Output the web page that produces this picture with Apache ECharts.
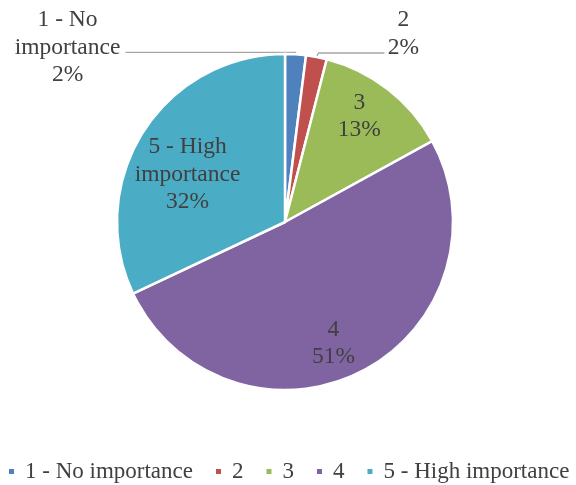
<!DOCTYPE html>
<html>
<head>
<meta charset="utf-8">
<script src="https://cdn.jsdelivr.net/npm/echarts@6/dist/echarts.min.js"></script>
<style>
  html, body { margin: 0; padding: 0; background: #fff; }
  #chart { width: 576px; height: 485px; }
</style>
</head>
<body>
<div id="chart"></div>
<script>
// Importance ratings (share of responses, %)
const categories = ['1 - No importance', '2', '3', '4', '5 - High importance'];
const shares = [2, 2, 13, 51, 32];
const colors = ['#4F81BD', '#C0504D', '#9BBB59', '#8064A2', '#4BACC6'];

const FONT = '"Liberation Serif", "Times New Roman", serif';
const TEXT = '#404040';

// Label text for a slice: category name on top, percent under it
function labelText(name, value) {
  const words = name === '1 - No importance' ? '1 - No\nimportance'
    : name === '5 - High importance' ? '5 - High\nimportance' : name;
  return words + '\n' + value + '%';
}

// Nudges for the labels drawn inside the larger slices
const insideShift = {
  2: [21, -37],
  3: [9, 44],
  4: [-24, -1]
};

const chart = echarts.init(document.getElementById('chart'), null, { renderer: 'canvas' });

chart.setOption({
  animation: false,
  color: colors,
  legend: {
    data: categories,
    left: 7,
    top: 460,
    width: 569,
    padding: 0,
    icon: 'rect',
    itemWidth: 7,
    itemHeight: 7,
    itemGap: 21,
    textStyle: { fontFamily: FONT, fontSize: 23, color: TEXT, padding: [0, 0, 0, 5] }
  },
  series: [{
    type: 'pie',
    center: [285, 222],
    radius: 168,
    startAngle: 90,
    clockwise: true,
    itemStyle: { borderColor: '#fff', borderWidth: 2.5 },
    emphasis: { disabled: true },
    label: {
      fontFamily: FONT,
      fontSize: 23.5,
      lineHeight: 27.5,
      color: TEXT,
      align: 'center',
      formatter: p => labelText(p.name, p.value)
    },
    labelLine: {
      show: true,
      length: 4,
      length2: 10,
      lineStyle: { color: '#A6A6A6', width: 1.3 }
    },
    labelLayout: function (p) {
      if (p.dataIndex === 0 && p.labelLinePoints) {
        const a = p.labelLinePoints[0];
        return {
          x: a[0] - 228, y: a[1] - 7, align: 'center', verticalAlign: 'middle',
          labelLinePoints: [a, [a[0], a[1] - 2], [a[0] - 170, a[1] - 2]]
        };
      }
      if (p.dataIndex === 1 && p.labelLinePoints) {
        const a = p.labelLinePoints[0];
        return {
          x: a[0] + 87, y: a[1] - 23, align: 'center', verticalAlign: 'middle',
          labelLinePoints: [a, [a[0] + 2, a[1] - 4], [a[0] + 68, a[1] - 4]]
        };
      }
      const s = insideShift[p.dataIndex];
      return s ? { dx: s[0], dy: s[1] } : {};
    },
    data: categories.map((name, i) => {
      const inside = i >= 2;
      return {
        name: name,
        value: shares[i],
        label: { position: inside ? 'inside' : 'outside' },
        labelLine: { show: !inside }
      };
    })
  }]
});
</script>
</body>
</html>
